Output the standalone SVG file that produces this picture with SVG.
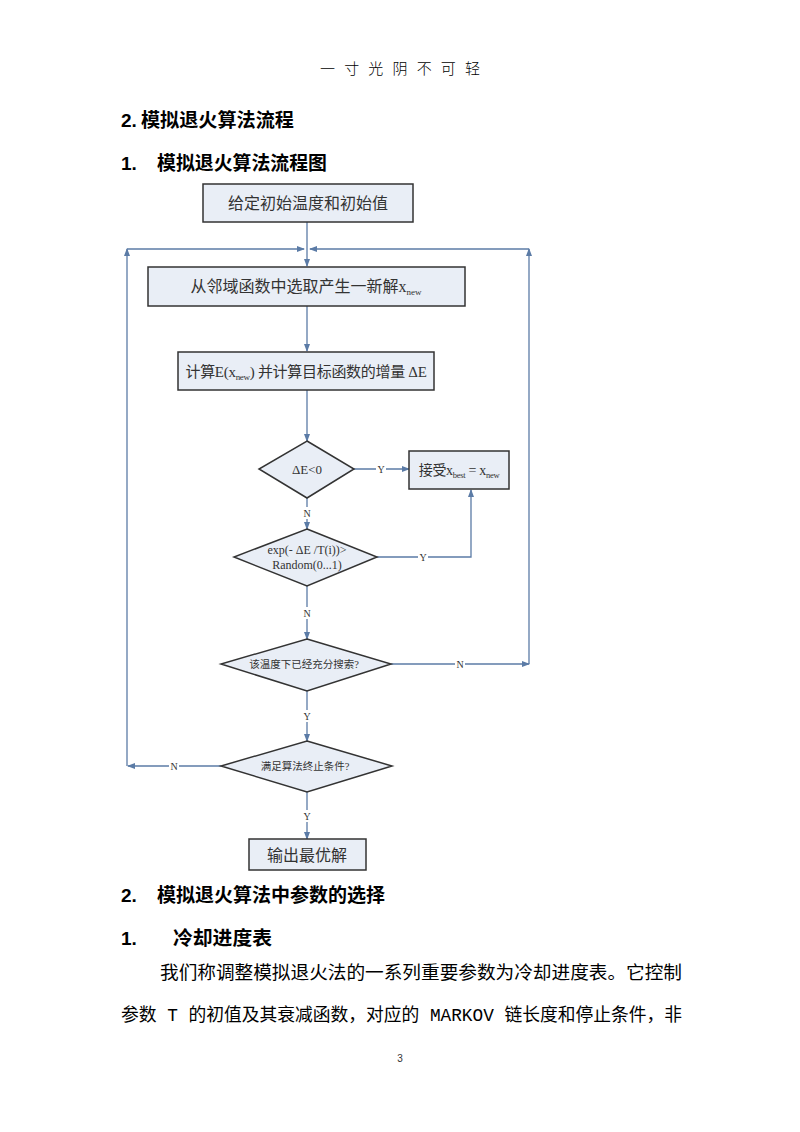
<svg xmlns="http://www.w3.org/2000/svg" width="800" height="1132" viewBox="0 0 800 1132">
<style>
.box{fill:#e9eef6;stroke:#333;stroke-width:1.5}
.c{fill:none;stroke:#5b7ba6;stroke-width:1.3}
.ft{font-family:"Liberation Serif","Noto Sans CJK SC",serif;fill:#333;text-anchor:middle}
.lbl{font-family:"Liberation Serif",serif;font-size:10px;fill:#333;text-anchor:middle}
.h{font-family:"Liberation Sans","Noto Sans CJK SC",sans-serif;font-weight:bold;font-size:19px;fill:#000}
.p{font-family:"Liberation Mono","Noto Sans CJK SC",monospace;font-size:18px;fill:#000}
</style>
<defs>
<marker id="a" markerWidth="8" markerHeight="8" refX="7" refY="4" orient="auto" markerUnits="userSpaceOnUse">
<path d="M0,1 L8,4 L0,7 Z" fill="#5b7ba6"/>
</marker>
</defs>
<rect width="800" height="1132" fill="#fff"/>
<text x="320" y="74" font-family="Noto Sans CJK SC,sans-serif" font-size="15" font-weight="300" fill="#000" textLength="160" lengthAdjust="spacing">一寸光阴不可轻</text>
<text class="h" x="121" y="127">2.</text>
<text class="h" x="141" y="127" textLength="153" lengthAdjust="spacingAndGlyphs">模拟退火算法流程</text>
<text class="h" x="121" y="170">1.</text>
<text class="h" x="157" y="170" textLength="170" lengthAdjust="spacingAndGlyphs">模拟退火算法流程图</text>

<g id="connectors">
<line class="c" x1="307" y1="222" x2="307" y2="266" marker-end="url(#a)"/>
<polyline class="c" points="127,766 127,249" marker-end="url(#a)"/>
<line class="c" x1="127" y1="249" x2="304" y2="249" marker-end="url(#a)"/>
<polyline class="c" points="391,664 529,664" marker-end="url(#a)"/>
<line class="c" x1="529" y1="664" x2="529" y2="249" marker-end="url(#a)"/>
<line class="c" x1="529" y1="249" x2="310" y2="249" marker-end="url(#a)"/>
<line class="c" x1="307" y1="306" x2="307" y2="351" marker-end="url(#a)"/>
<line class="c" x1="307" y1="390" x2="307" y2="441" marker-end="url(#a)"/>
<line class="c" x1="354" y1="469" x2="409" y2="469" marker-end="url(#a)"/>
<line class="c" x1="307" y1="498" x2="307" y2="529" marker-end="url(#a)"/>
<polyline class="c" points="377,557 471,557 471,490" marker-end="url(#a)"/>
<line class="c" x1="307" y1="586" x2="307" y2="639" marker-end="url(#a)"/>
<line class="c" x1="307" y1="691" x2="307" y2="741" marker-end="url(#a)"/>
<line class="c" x1="221" y1="766" x2="128" y2="766" marker-end="url(#a)"/>
<line class="c" x1="307" y1="792" x2="307" y2="839" marker-end="url(#a)"/>
<rect x="376" y="463" width="10" height="12" fill="#fff"/><text class="lbl" x="381" y="473">Y</text>
<rect x="302" y="507" width="10" height="12" fill="#fff"/><text class="lbl" x="307" y="517">N</text>
<rect x="418" y="551" width="10" height="12" fill="#fff"/><text class="lbl" x="423" y="561">Y</text>
<rect x="302" y="607" width="10" height="12" fill="#fff"/><text class="lbl" x="307" y="617">N</text>
<rect x="455" y="658" width="10" height="12" fill="#fff"/><text class="lbl" x="460" y="668">N</text>
<rect x="302" y="710" width="10" height="12" fill="#fff"/><text class="lbl" x="307" y="720">Y</text>
<rect x="169" y="760" width="10" height="12" fill="#fff"/><text class="lbl" x="174" y="770">N</text>
<rect x="302" y="810" width="10" height="12" fill="#fff"/><text class="lbl" x="307" y="820">Y</text>
</g>

<g id="n1"><rect class="box" x="203" y="184" width="210" height="38"/><text class="ft" x="308" y="209" font-size="16">给定初始温度和初始值</text></g>
<g id="n2"><rect class="box" x="148" y="267" width="317" height="39"/><text class="ft" x="306" y="292" font-size="16">从邻域函数中选取产生一新解x<tspan font-size="9" dy="3">new</tspan></text></g>
<g id="n3"><rect class="box" x="178" y="352" width="256" height="38"/><text class="ft" x="306" y="377" font-size="15" letter-spacing="-0.3">计算E(x<tspan font-size="9" dy="3">new</tspan><tspan dy="-3">) 并计算目标函数的增量 ΔE</tspan></text></g>
<g id="d1"><polygon class="box" points="307,441 354,469 307,498 259,469"/><text class="ft" x="307" y="474" font-size="13">ΔE&lt;0</text></g>
<g id="n4"><rect class="box" x="409" y="451" width="100" height="38"/><text class="ft" x="459" y="475" font-size="14" letter-spacing="-0.3">接受x<tspan font-size="8.5" dy="3">best</tspan><tspan dy="-3"> = x</tspan><tspan font-size="8.5" dy="3">new</tspan></text></g>
<g id="d2"><polygon class="box" points="307,529 377,557 307,586 234,557"/><text class="ft" x="307" y="554" font-size="12">exp(- ΔE /T(i))&gt;</text><text class="ft" x="307" y="569" font-size="12">Random(0...1)</text></g>
<g id="d3"><polygon class="box" points="307,639 391,664 307,691 221,664"/><text class="ft" x="304" y="668" font-size="10.5">该温度下已经充分搜索?</text></g>
<g id="d4"><polygon class="box" points="307,741 392,766 307,792 221,766"/><text class="ft" x="305" y="770" font-size="10.5">满足算法终止条件?</text></g>
<g id="n5"><rect class="box" x="249" y="839" width="117" height="31"/><text class="ft" x="307" y="861" font-size="16">输出最优解</text></g>

<text class="h" x="121" y="902">2.</text>
<text class="h" x="157" y="902" textLength="228" lengthAdjust="spacingAndGlyphs">模拟退火算法中参数的选择</text>
<text class="h" x="121" y="945">1.</text>
<text class="h" x="173" y="945" textLength="99" lengthAdjust="spacingAndGlyphs">冷却进度表</text>
<text class="p" x="160" y="979" textLength="522" lengthAdjust="spacingAndGlyphs">我们称调整模拟退火法的一系列重要参数为冷却进度表。它控制</text>
<text class="p" x="121" y="1021" textLength="561" lengthAdjust="spacingAndGlyphs">参数 T 的初值及其衰减函数，对应的 MARKOV 链长度和停止条件，非</text>
<text x="400" y="1062" font-family="Liberation Sans,sans-serif" font-size="10" text-anchor="middle" fill="#333">3</text>
</svg>
